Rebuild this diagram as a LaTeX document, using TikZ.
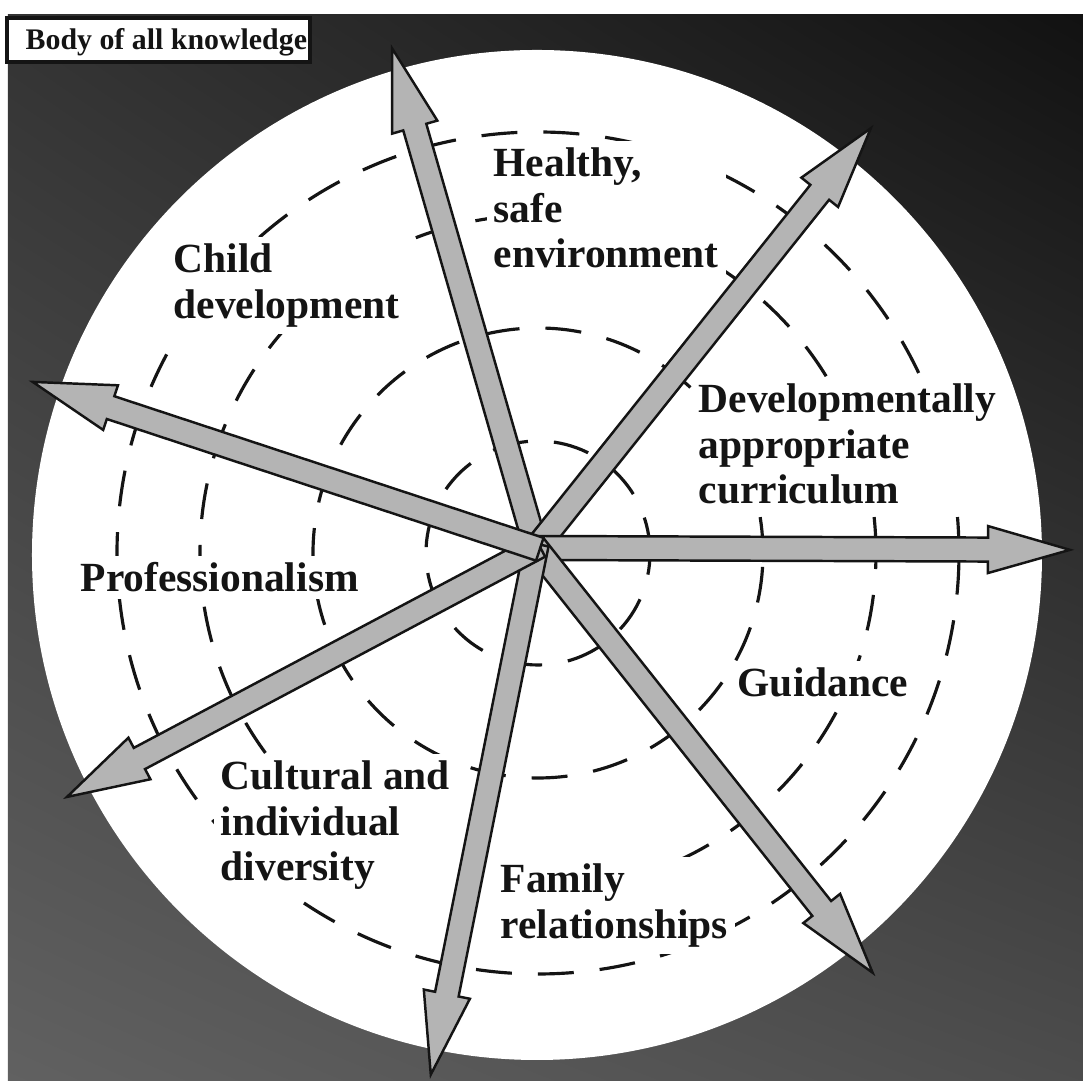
\documentclass[tikz,border=0pt]{standalone}
\usepackage{fontspec}
\setmainfont{Liberation Serif}
\usetikzlibrary{calc,shadings}
\definecolor{inkmain}{HTML}{141414}
\definecolor{spokegray}{HTML}{B4B4B4}
\tikzset{every node/.append style={font=\rmfamily}}
\tikzset{
  ring/.style={inkmain,line width=0.9pt,dash pattern=on 0.36cm off 0.26cm},
  spoke/.style={draw=inkmain,line width=0.7pt,fill=spokegray,line join=miter},
  topic/.style={anchor=north west,inner sep=2pt,xshift=-2pt,yshift=2pt,
    fill=white,align=left,text=inkmain,
    font=\bfseries\fontsize{11.8}{13}\selectfont},
}

\begin{document}
\begin{tikzpicture}
  \useasboundingbox[fill=white] (-5.36,-5.33) rectangle (5.47,5.48);
  % dark field behind the disc
  \shade[upper left=black!80,upper right=black!93,lower left=black!62,lower right=black!70]
    (-5.28,-5.33) rectangle (5.47,5.33);
  \coordinate (hub) at (0,0);
  \coordinate (disc) at (0.01,-0.07);
  \coordinate (rings) at (0.02,-0.05);
  \fill[white] (disc) circle (5.05);
  \foreach \r in {1.12,2.25,3.38,4.21}
    \draw[ring] (rings) circle (\r);

  % labels knock out the rings behind them
  \node[topic] (healthy) at (-0.43,4.01) {Healthy,\\safe\\environment};
  \node[topic] (child) at (-3.63,3.05) {Child\\development};
  \node[topic] (curric) at (1.62,1.65) {Developmentally\\appropriate\\curriculum};
  \node[topic] (prof) at (-4.56,-0.14) {Professionalism};
  \node[topic] (guid) at (2.01,-1.19) {Guidance};
  \node[topic] (cultural) at (-3.16,-2.12) {Cultural and\\individual\\diversity};
  \node[topic] (family) at (-0.36,-3.15) {Family\\relationships};

  % seven double-width spokes out of the hub
  \foreach \ang/\len in {106.07/5.20,51.42/5.37,-0.2/5.34,-51.6/5.42,258.7/5.37,207.96/5.31,161.74/5.30}
    \draw[spoke,shift={(hub)},rotate=\ang] (-0.04,-0.12) -- (\len-0.82,-0.12)
      -- (\len-0.82,-0.235) -- (\len,0) -- (\len-0.82,0.235)
      -- (\len-0.82,0.12) -- (-0.04,0.12) -- cycle;

  % caption box in the corner
  \draw[inkmain,line width=1pt,fill=white] (-5.29,4.86) rectangle (-2.26,5.30);
  \node[anchor=base west,inner sep=0pt,text=inkmain,font=\bfseries\fontsize{8.5}{10}\selectfont]
    (title) at (-5.11,4.98) {Body of all knowledge};
\end{tikzpicture}
\end{document}
